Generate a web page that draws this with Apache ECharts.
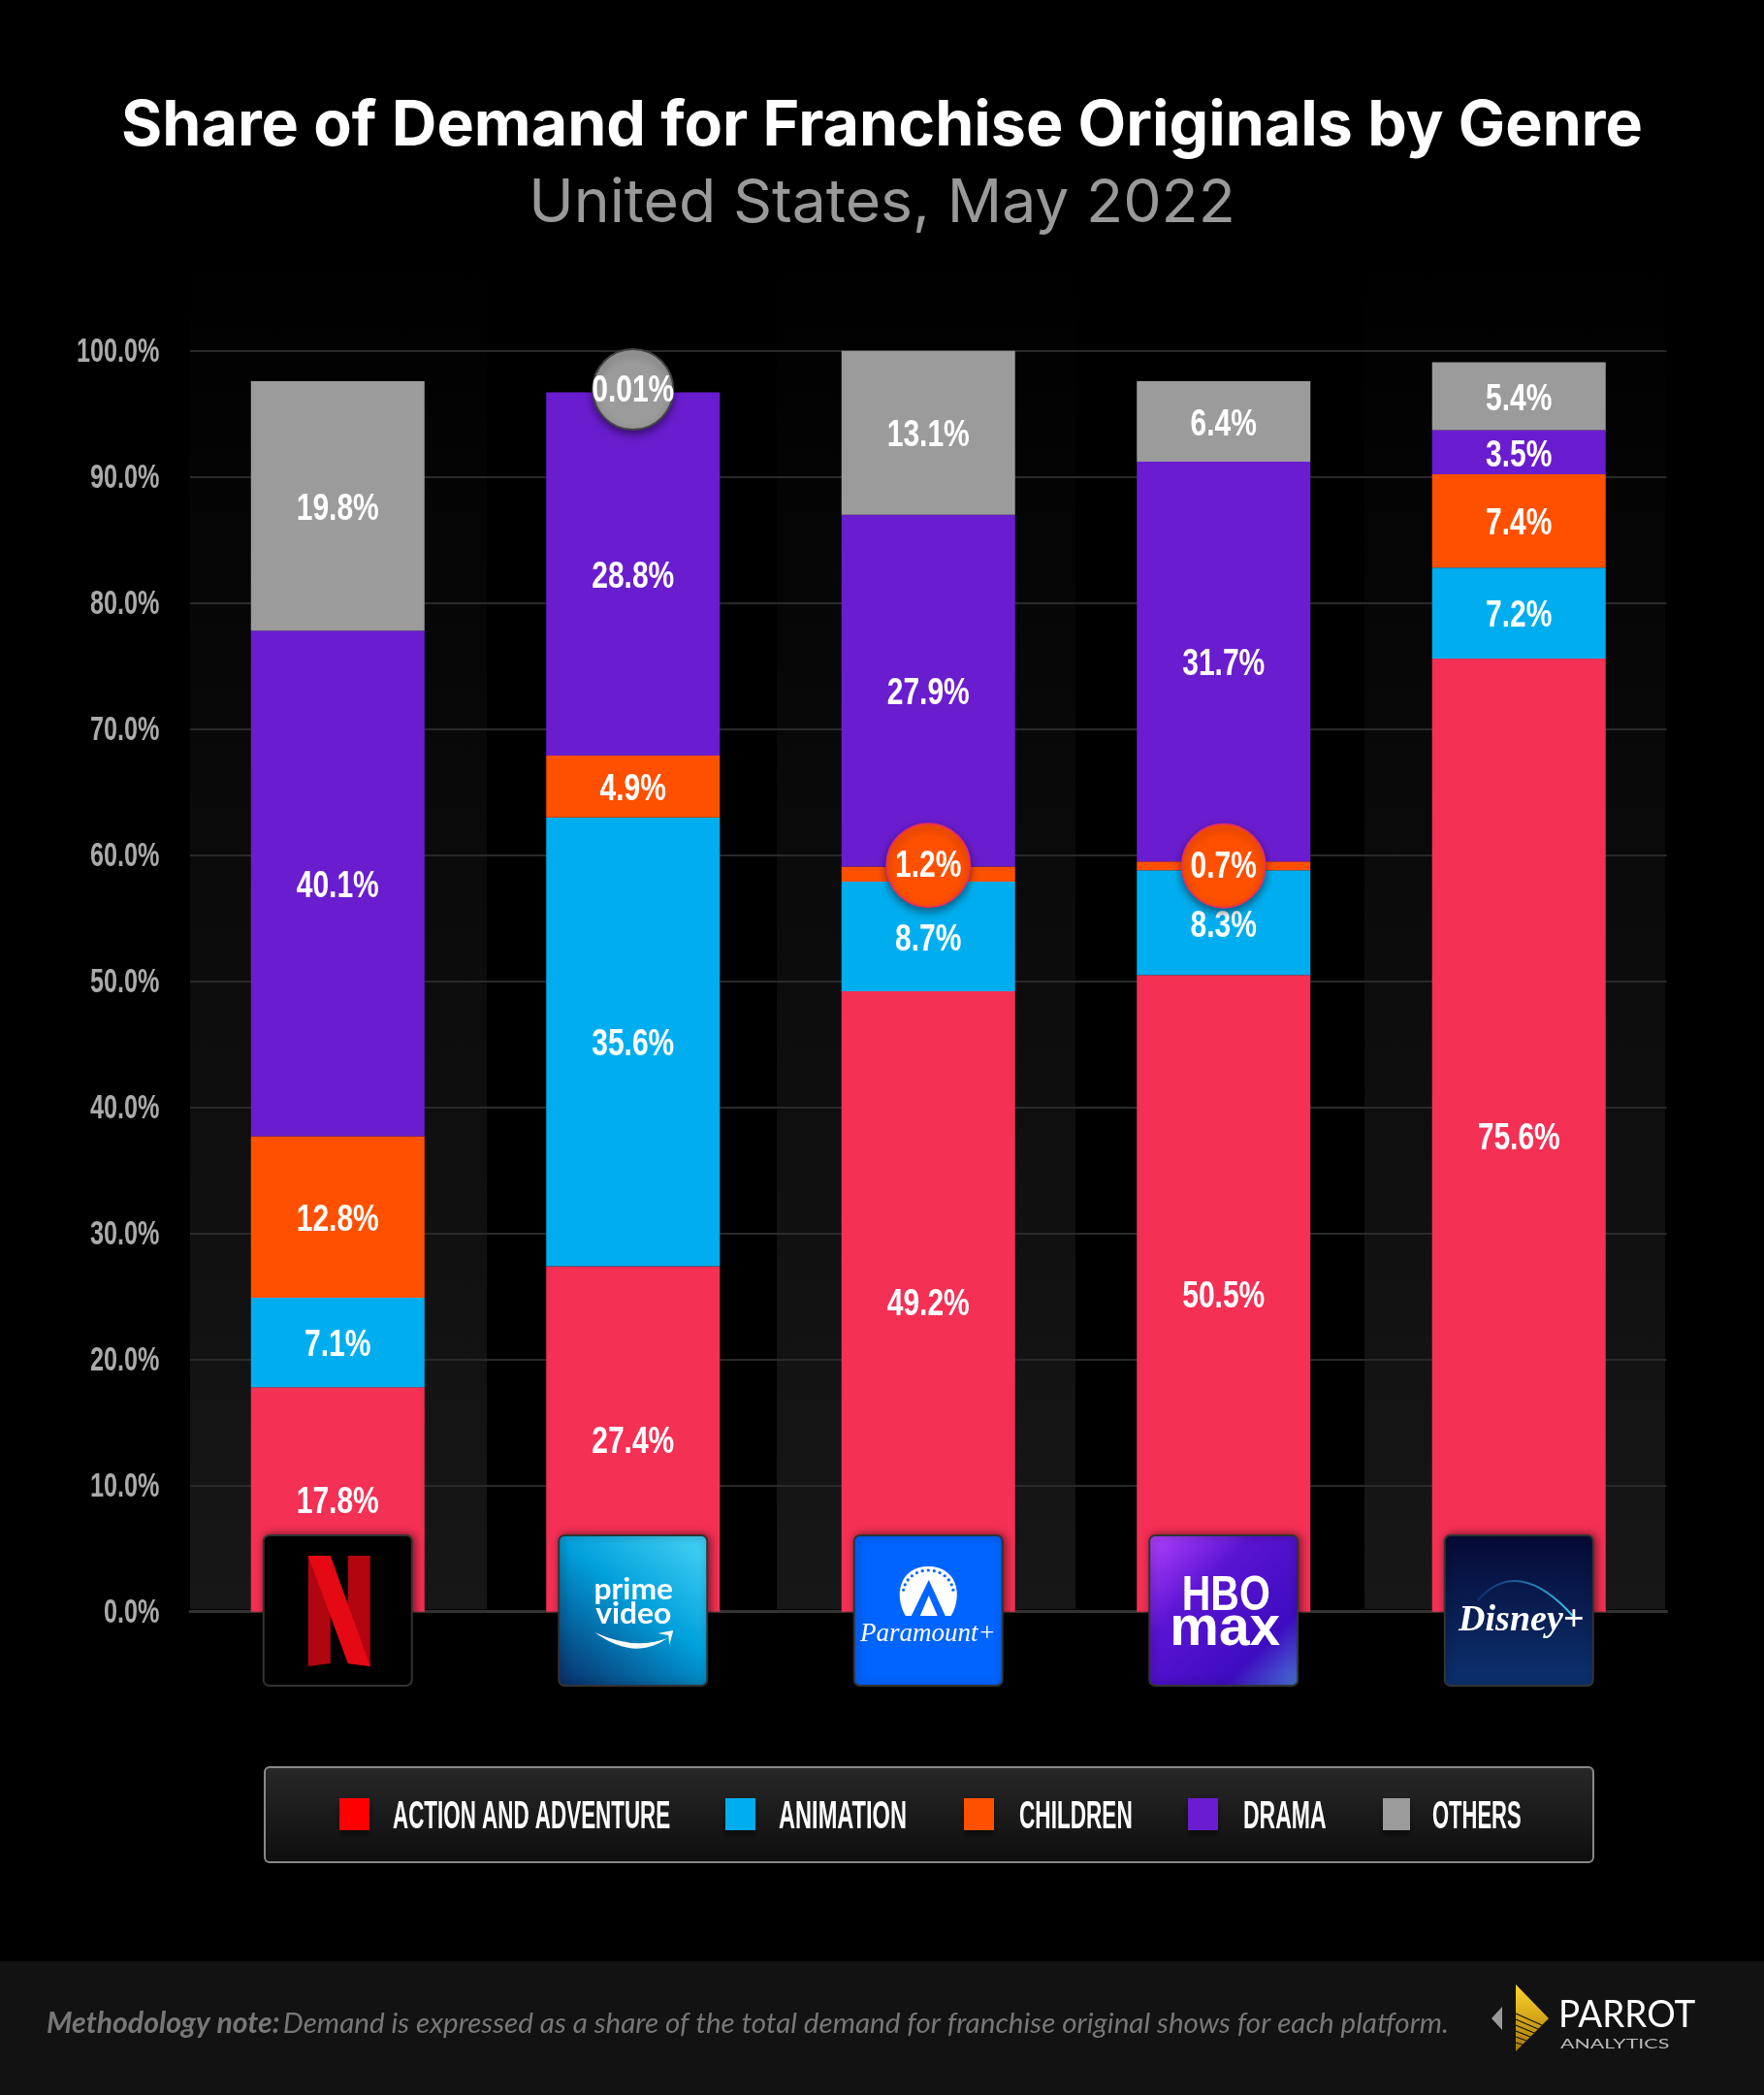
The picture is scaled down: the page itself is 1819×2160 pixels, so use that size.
<!DOCTYPE html>
<html>
<head>
<meta charset="utf-8">
<title>Share of Demand for Franchise Originals by Genre</title>
<script src="https://cdn.jsdelivr.net/npm/echarts@6/dist/echarts.min.js"></script>
<style>
html, body { margin: 0; padding: 0; background: #000; }
#main { width: 1819px; height: 2160px; }
</style>
</head>
<body>
<div id="main"></div>
<script>
// values, % share per platform
var platforms = ['Netflix', 'Prime Video', 'Paramount+', 'HBO Max', 'Disney+'];
var actionAdventure = [17.8, 27.4, 49.2, 50.5, 75.6];
var animation = [7.1, 35.6, 8.7, 8.3, 7.2];
var children = [12.8, 4.9, 1.2, 0.7, 7.4];
var drama = [40.1, 28.8, 27.9, 31.7, 3.5];
var others = [19.8, 0.01, 13.1, 6.4, 5.4];
var seriesNames = ['ACTION AND ADVENTURE', 'ANIMATION', 'CHILDREN', 'DRAMA', 'OTHERS'];
var seriesValues = [actionAdventure, animation, children, drama, others];
var yTicks = [0, 10, 20, 30, 40, 50, 60, 70, 80, 90, 100];

var barColors = ['#F43054', '#00AEEF', '#FF5000', '#6A1DCF', '#9B9B9B'];
var legendColors = ['#FF0000', '#00AEEF', '#FF5000', '#6A1DCF', '#9B9B9B'];
var boldFont = 'bold 39px "Liberation Sans"';

var myChart = echarts.init(document.getElementById('main'));

function fmt(v) {
    return (v < 0.1 ? v : v.toFixed(1)) + '%';
}

// thin segments get a round badge: [series, platform] -> pixel shift and border
var badges = {
    '2,2': { dy: -9, r: 43, border: '#E8305A' },
    '2,3': { dy: 0, r: 43, border: '#E8305A' },
    '4,1': { dy: -3, r: 41.5, border: '#444' }
};

// [platform, middle of the segment, value, series]
var labelData = [];
platforms.forEach(function (p, i) {
    var base = 0;
    seriesValues.forEach(function (vals, s) {
        labelData.push([i, base + vals[i] / 2, vals[i], s]);
        base += vals[i];
    });
});

function renderSegmentLabel(params, api) {
    var pt = api.coord([api.value(0), api.value(1)]);
    var s = api.value(3);
    var b = badges[s + ',' + api.value(0)];
    var children = [];
    var y = pt[1] + 3.5;
    if (b) {
        y = pt[1] + b.dy;
        children.push({
            type: 'circle',
            shape: { cx: pt[0], cy: y, r: b.r },
            style: {
                fill: barColors[s], stroke: b.border, lineWidth: 2,
                shadowColor: 'rgba(0,0,0,0.45)', shadowBlur: 8, shadowOffsetY: 4
            }
        });
        y += 1.5;
    }
    children.push({
        type: 'text',
        x: pt[0],
        y: y,
        scaleX: 0.77,
        style: {
            text: fmt(api.value(2)),
            fill: '#fff',
            font: boldFont,
            textAlign: 'center',
            textVerticalAlign: 'middle'
        }
    });
    return { type: 'group', children: children };
}

function renderTick(params, api) {
    var pt = api.coord([0, api.value(1)]);
    return {
        type: 'text',
        x: 164.5,
        y: pt[1] + 1.5,
        scaleX: 0.72,
        style: {
            text: api.value(1).toFixed(1) + '%',
            fill: '#aaa',
            font: 'bold 35px "Liberation Sans"',
            textAlign: 'right',
            textVerticalAlign: 'middle'
        }
    };
}

var barSeries = seriesNames.map(function (name, idx) {
    return {
        name: name,
        type: 'bar',
        stack: 'total',
        barWidth: 179,
        itemStyle: { color: barColors[idx] },
        data: seriesValues[idx]
    };
});

myChart.setOption({
    backgroundColor: '#000',
    animation: false,
    title: [
        {
            text: 'Share of Demand for Franchise Originals by Genre',
            left: 'center',
            top: 93,
            textStyle: { color: '#fff', fontFamily: 'Inter', fontWeight: 'bold', fontSize: 64.5 }
        },
        {
            text: 'United States, May 2022',
            left: 'center',
            top: 174,
            textStyle: { color: '#999', fontFamily: 'Inter', fontWeight: 'normal', fontSize: 62.5 }
        }
    ],
    grid: { left: 196, top: 361.7, width: 1522.5, height: 1300 },
    xAxis: {
        type: 'category',
        data: platforms,
        axisLine: { lineStyle: { color: '#333', width: 3 } },
        axisTick: { show: false },
        axisLabel: { show: false }
    },
    yAxis: {
        type: 'value',
        min: 0,
        max: 100,
        interval: 10,
        axisLine: { show: false },
        axisTick: { show: false },
        axisLabel: { show: false },
        splitLine: { lineStyle: { color: '#2a2a2a', width: 2 } }
    },
    series: barSeries.concat([
        {
            type: 'custom',
            z: 5,
            silent: true,
            renderItem: renderSegmentLabel,
            encode: { x: 0, y: 1 },
            data: labelData
        },
        {
            type: 'custom',
            z: 5,
            silent: true,
            renderItem: renderTick,
            encode: { x: 0, y: 1 },
            data: yTicks.map(function (v) { return [0, v]; })
        }
    ])
});

// logos need free shapes
var pathCount = 0;
function path(d, style) {
    var name = 'logoPath' + (pathCount++);
    echarts.graphic.registerShape(name, echarts.graphic.extendPath(d));
    return { type: name, z: 102, style: style };
}
function txt(s, x, y, font, extra) {
    return Object.assign({
        type: 'text', x: x, y: y, z: 102,
        style: { text: s, fill: '#fff', font: font, textAlign: 'center', textVerticalAlign: 'middle' }
    }, extra || {});
}
function poly(points, fill) {
    return { type: 'polygon', z: 102, shape: { points: points }, style: { fill: fill } };
}
function vertical(top, bottom) {
    return { type: 'linear', x: 0, y: 0, x2: 0, y2: 1, colorStops: [
        { offset: 0, color: top }, { offset: 1, color: bottom }] };
}

// platform cards that sit in place of the axis labels
var cardW = 153, cardH = 155, cardTop = 1583;
var cardFills = [
    '#000',
    { type: 'linear', x: 0, y: 1, x2: 0.8, y2: 0, colorStops: [
        { offset: 0, color: '#0A2C66' }, { offset: 0.6, color: '#00A0DC' }, { offset: 1, color: '#3CCBF0' }] },
    '#0064FF',
    { type: 'linear', x: 0, y: 0, x2: 1, y2: 1, colorStops: [
        { offset: 0, color: '#B442FF' }, { offset: 0.35, color: '#5A14D2' },
        { offset: 0.75, color: '#3E0CC0' }, { offset: 1, color: '#4677D6' }] },
    vertical('#060A35', '#0C3270')
];

var paramountStars = [];
for (var a = 0; a < 13; a++) {
    var t = Math.PI * (1.05 + a * 0.9 / 12);
    paramountStars.push({
        type: 'circle', z: 103,
        shape: { cx: 76.5 + 26 * Math.cos(t), cy: 60 + 24 * Math.sin(t), r: 1.6 },
        style: { fill: '#0064FF' }
    });
}

var logos = [
    [
        poly([[46, 21], [69, 21], [69, 132], [46, 135]], '#B1060F'),
        poly([[87, 21], [110, 21], [110, 135], [87, 132]], '#B1060F'),
        poly([[46, 21], [69, 21], [110, 135], [87, 132]], '#E50914')
    ],
    [
        txt('prime', 77, 56, 'bold 30px Lato', { scaleX: 1.06 }),
        txt('video', 77, 81, 'bold 30px Lato', { scaleX: 1.06 }),
        path('M37 100 Q78 130 112 106 Q78 119 37 100Z', { fill: '#fff' }),
        path('M102 101 L118 98 L114 113 L113 103Z', { fill: '#fff' })
    ],
    [
        path('M53 83 C40 60 48 32 76.5 32 C105 32 113 60 100 83Z', { fill: '#fff' }),
        poly([[77, 46], [59, 83], [94, 83]], '#0064FF'),
        poly([[77, 62], [68, 83], [86, 83]], '#fff')
    ].concat(paramountStars, [
        txt('Paramount+', 76, 102, 'italic 27px "Liberation Serif"')
    ]),
    [
        txt('HBO', 79, 63, 'bold 50px "Liberation Sans"', { scaleX: 0.82 }),
        txt('max', 78, 97, 'bold 58px "Liberation Sans"', { scaleX: 0.98 })
    ],
    [
        path('M34 67 Q76 20 133 84', {
            fill: 'none', lineWidth: 2,
            stroke: { type: 'linear', x: 0, y: 0, x2: 1, y2: 0, colorStops: [
                { offset: 0, color: 'rgba(40,90,200,0.3)' }, { offset: 1, color: '#35D8F0' }] }
        }),
        txt('Disney+', 79, 88, 'italic bold 38px "Liberation Serif"')
    ]
];

var graphics = [];

// faint vertical stripes behind the plot
var stripeEdges = [196, 502, 801, 1109, 1407, 1717];
[0, 2, 4].forEach(function (i) {
    graphics.push({
        type: 'rect', z: -10, silent: true,
        shape: { x: stripeEdges[i], y: 250, width: stripeEdges[i + 1] - stripeEdges[i], height: 1409 },
        style: { fill: vertical('#000', '#171717') }
    });
});

// legend box and entries
graphics.push({
    type: 'rect', z: -5, silent: true,
    shape: { x: 273, y: 1822, width: 1370, height: 98, r: 5 },
    style: { stroke: '#888', lineWidth: 2, fill: vertical('#282828', '#0E0E0E') }
});
var legendX = [350, 748, 994, 1225, 1426];
var legendTextX = [405, 803, 1051, 1282, 1477];
var legendScale = [0.56, 0.59, 0.565, 0.575, 0.55];
seriesNames.forEach(function (n, i) {
    graphics.push({
        type: 'rect', z: 5,
        shape: { x: legendX[i], y: 1854, width: i == 4 ? 28 : 31, height: 33 },
        style: { fill: legendColors[i], shadowColor: 'rgba(0,0,0,0.5)', shadowBlur: 6, shadowOffsetY: 5 }
    });
    graphics.push({
        type: 'text', z: 5, x: legendTextX[i], y: 1874, scaleX: legendScale[i],
        style: { text: n, fill: '#fff', font: 'bold 40px "Liberation Sans"', textVerticalAlign: 'middle' }
    });
});

// footer band
graphics.push({
    type: 'rect', z: -5, silent: true,
    shape: { x: 0, y: 2022, width: 1819, height: 138 },
    style: { fill: '#121212' }
});
graphics.push({
    type: 'text', z: 5, x: 48, y: 2086,
    style: {
        text: '{b|Methodology note:} {n|Demand is expressed as a share of the total demand for franchise original shows for each platform.}',
        textVerticalAlign: 'middle',
        rich: {
            b: { fill: '#777', font: 'italic bold 30.2px Lato' },
            n: { fill: '#777', font: 'italic 29.6px Lato' }
        }
    }
});

// Parrot Analytics mark
graphics.push(poly([[1549, 2069], [1549, 2093], [1538, 2081]], '#999'));
graphics.push({
    type: 'polygon', z: 5,
    shape: { points: [[1563, 2046], [1597, 2081], [1563, 2115]] },
    style: { fill: vertical('#FFD42A', '#A8780A') }
});
// hatching in the lower half of the kite
for (var h = 0; h < 6; h++) {
    graphics.push({
        type: 'line', z: 6,
        shape: { x1: 1563, y1: 2076 + h * 6, x2: 1590 - h * 4, y2: 2088 + h * 4 },
        style: { stroke: '#121212', lineWidth: 1.2 }
    });
}
graphics.push({
    type: 'text', z: 5, x: 1607, y: 2078, scaleX: 0.97,
    style: { text: 'PARROT', fill: '#fff', font: '38px Lato', textVerticalAlign: 'middle' }
});
graphics.push({
    type: 'text', z: 5, x: 1609, y: 2107, scaleX: 1.53,
    style: { text: 'ANALYTICS', fill: '#bbb', font: '14px Lato', textVerticalAlign: 'middle' }
});

platforms.forEach(function (p, i) {
    var cx = myChart.convertToPixel({ xAxisIndex: 0 }, p);
    graphics.push({
        type: 'group',
        x: cx - cardW / 2,
        y: cardTop,
        children: [{
            type: 'rect', z: 100,
            shape: { x: 0, y: 0, width: cardW, height: cardH, r: 6 },
            style: {
                fill: cardFills[i], stroke: '#333', lineWidth: 2,
                shadowColor: 'rgba(0,0,0,0.5)', shadowBlur: 8, shadowOffsetX: 2
            }
        }].concat(logos[i])
    });
});

myChart.setOption({ graphic: { elements: graphics } });
</script>
</body>
</html>
